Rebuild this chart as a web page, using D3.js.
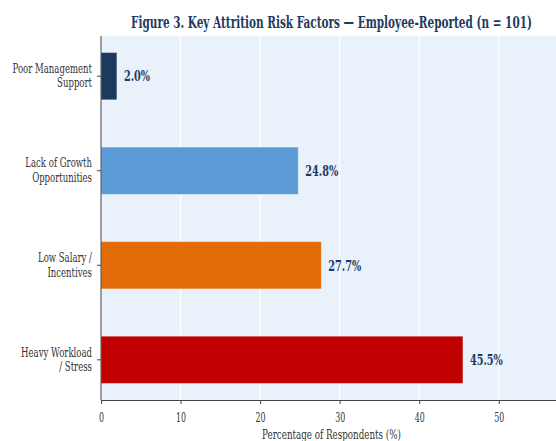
<!DOCTYPE html>
<html>
<head>
<meta charset="utf-8">
<script src="https://cdn.jsdelivr.net/npm/d3@7"></script>
<style>
  html, body { margin: 0; padding: 0; background: #ffffff; }
  svg { display: block; }
  text { font-family: "DejaVu Serif", serif; }
</style>
</head>
<body>
<svg id="chart" width="556" height="441"></svg>
<script>
// Attrition risk factors, share of respondents (%)
const categories = [
  ["Poor Management", "Support"],
  ["Lack of Growth", "Opportunities"],
  ["Low Salary /", "Incentives"],
  ["Heavy Workload", "/ Stress"]
];
const values = [2.0, 24.8, 27.7, 45.5];
const barColors = ["#1c3a5e", "#5b9bd5", "#e36c09", "#c00000"];
const xTicks = [0, 10, 20, 30, 40, 50];
const titleText = "Figure 3. Key Attrition Risk Factors \u2014 Employee-Reported (n = 101)";
const xLabel = "Percentage of Respondents (%)";

// horizontal squeeze factors giving the serif face a condensed look
const K_TITLE = 0.635, K_VALUE = 0.67, K_TICK = 0.63, K_CAT = 0.70, K_LABEL = 0.70;

const svg = d3.select("#chart");
const margin = { left: 101, right: 0, top: 36, bottom: 41 };
const W = 556, H = 441;
const plotW = W - margin.left - margin.right;
const plotH = H - margin.top - margin.bottom;

const ids = categories.map((c, i) => i);
const x = d3.scaleLinear().domain([0, 57.2]).range([0, plotW]);
const y = d3.scaleBand().domain(ids).range([0, plotH]).paddingInner(0.5).paddingOuter(0.175);

const g = svg.append("g").attr("transform", `translate(${margin.left},${margin.top})`);

// plot background
g.append("rect").attr("width", plotW).attr("height", plotH).attr("fill", "#e9f1fb");

// vertical grid
g.append("g").selectAll("line").data(xTicks.slice(1)).join("line")
  .attr("x1", d => x(d)).attr("x2", d => x(d))
  .attr("y1", 0).attr("y2", plotH)
  .attr("stroke", "#ffffff").attr("stroke-width", 1.2);

// bars
g.append("g").selectAll("rect").data(values).join("rect")
  .attr("x", 0)
  .attr("y", (d, i) => y(i))
  .attr("width", d => x(d))
  .attr("height", y.bandwidth())
  .attr("fill", (d, i) => barColors[i])
  .attr("stroke", "rgba(255,255,255,0.45)")
  .attr("stroke-width", 0.8);

// value labels
g.append("g").selectAll("text").data(values).join("text")
  .attr("transform", (d, i) => `translate(${x(d) + 7},${y(i) + y.bandwidth() / 2}) scale(${K_VALUE},1)`)
  .attr("dy", "0.36em")
  .attr("fill", "#1f3a5f")
  .attr("font-size", 14.5)
  .attr("font-weight", "bold")
  .text(d => d.toFixed(1) + "%");

// x axis
const xAxis = d3.axisBottom(x).tickValues(xTicks).tickSize(4).tickPadding(3).tickFormat(d3.format("d"));
const xg = g.append("g").attr("transform", `translate(0,${plotH})`).call(xAxis);
xg.select(".domain").attr("stroke", "#444").attr("stroke-width", 1);
xg.selectAll(".tick line").attr("stroke", "#444");
xg.selectAll(".tick text")
  .attr("y", null).attr("dy", null)
  .attr("transform", `translate(0,22) scale(${K_TICK},1)`)
  .attr("fill", "#333").attr("font-size", 12.5)
  .style("font-family", '"DejaVu Serif", serif');

// y axis with two-line category labels
const yAxis = d3.axisLeft(y).tickSize(4).tickPadding(4).tickFormat(() => "");
const yg = g.append("g").call(yAxis);
yg.select(".domain").attr("stroke", "#444").attr("stroke-width", 1).attr("d", `M0,0V${plotH}`);
yg.selectAll(".tick line").attr("stroke", "#444");
yg.selectAll(".tick").each(function(d) {
  const t = d3.select(this).select("text")
    .attr("x", null).attr("dy", null)
    .attr("transform", `translate(-9,0) scale(${K_CAT},1)`)
    .attr("fill", "#333").attr("font-size", 12.2)
    .attr("text-anchor", "end")
    .style("font-family", '"DejaVu Serif", serif');
  t.text(null);
  categories[d].forEach((line, k) => {
    t.append("tspan").attr("x", 0).attr("y", -3.3 + k * 14.6).text(line);
  });
});

// x axis label
svg.append("text")
  .attr("transform", `translate(${margin.left + plotW / 2 + 3},438.5) scale(${K_LABEL},1)`)
  .attr("text-anchor", "middle")
  .attr("fill", "#333")
  .attr("font-size", 12.5)
  .text(xLabel);

// title
svg.append("text")
  .attr("transform", `translate(${margin.left + plotW / 2 + 3},28) scale(${K_TITLE},1)`)
  .attr("text-anchor", "middle")
  .attr("fill", "#1f3a5f")
  .attr("font-size", 16.5)
  .attr("font-weight", "bold")
  .text(titleText);
</script>
</body>
</html>
